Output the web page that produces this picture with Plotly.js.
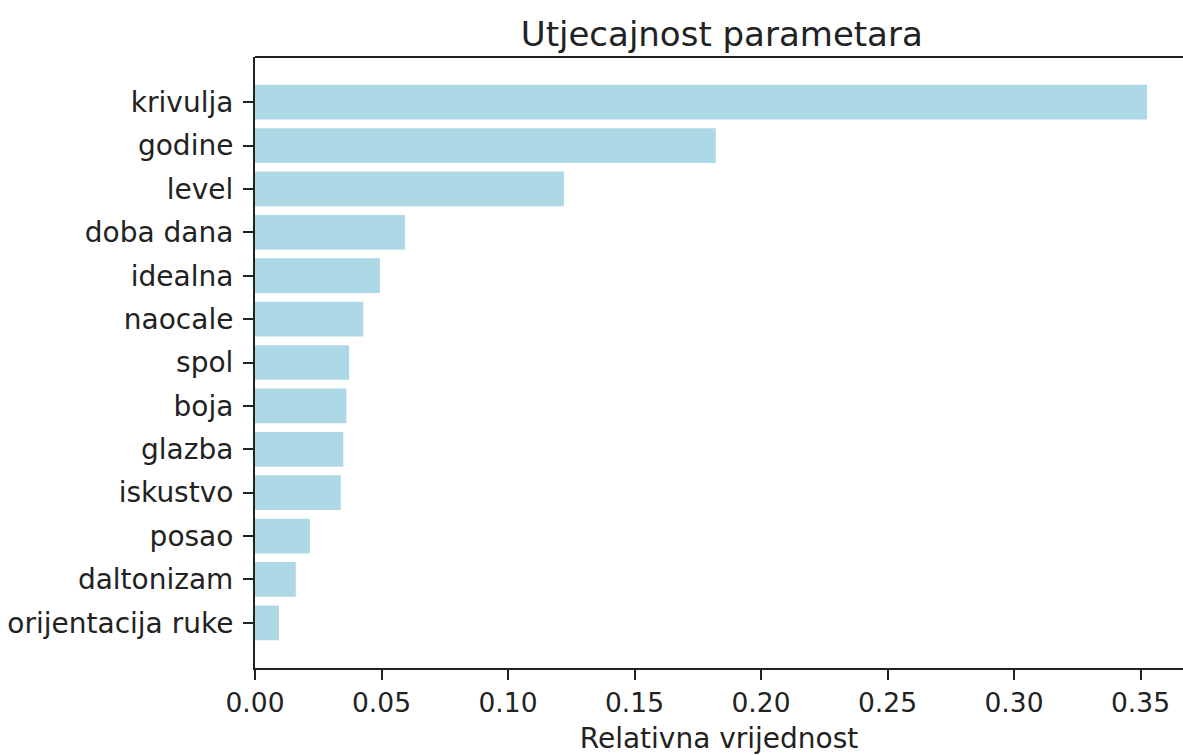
<!DOCTYPE html>
<html>
<head>
<meta charset="utf-8">
<script src="https://cdn.plot.ly/plotly-3.0.1.min.js"></script>
<style>html,body{margin:0;padding:0;background:#fff;overflow:hidden;}</style>
</head>
<body>
<div id="chart" style="width:1183px;height:755px;"></div>
<script>
const categories = ["krivulja","godine","level","doba dana","idealna","naocale","spol","boja","glazba","iskustvo","posao","daltonizam","orijentacija ruke"];
const values = [0.3526,0.1821,0.1221,0.0593,0.0494,0.0428,0.0372,0.0361,0.0349,0.0339,0.0217,0.0161,0.0095];
const xTicks = [0,0.05,0.10,0.15,0.20,0.25,0.30,0.35];
const xTickLabels = ["0.00","0.05","0.10","0.15","0.20","0.25","0.30","0.35"];

const font = "DejaVu Sans, sans-serif";
const data = [{
  type: "bar",
  orientation: "h",
  x: values,
  y: categories,
  marker: {color: "#ADD8E6", line: {width: 0}},
  hoverinfo: "x+y"
}];
const layout = {
  width: 1183, height: 755,
  margin: {l: 255, r: 0, t: 57, b: 87},
  paper_bgcolor: "#fff", plot_bgcolor: "#fff",
  bargap: 0.2,
  showlegend: false,
  font: {family: font, color: "#222", size: 27},
  title: {text: "Utjecajnost parametara", font: {family: font, size: 34, color: "#222"},
          x: 0.503, xref: "paper", xanchor: "center", y: 0.955, yanchor: "middle"},
  xaxis: {
    range: [0, 0.3668],
    tickvals: xTicks, ticktext: xTickLabels,
    ticks: "outside", ticklen: 10, tickwidth: 2, tickcolor: "#222",
    showline: true, linecolor: "#222", linewidth: 2,
    showgrid: false, zeroline: false,
    tickfont: {family: font, size: 26.5, color: "#222"},
    title: {text: "Relativna vrijednost", font: {family: font, size: 28, color: "#222"}, standoff: 12}
  },
  yaxis: {
    type: "category",
    categoryorder: "array", categoryarray: categories,
    range: [13.04, -1.04],
    ticks: "outside", ticklen: 10, tickwidth: 2, tickcolor: "#222",
    showline: true, linecolor: "#222", linewidth: 2,
    showgrid: false, zeroline: false,
    tickfont: {family: font, size: 28, color: "#222"},
    ticklabelstandoff: 4
  },
  shapes: [{type: "line", xref: "paper", yref: "paper", x0: 0, x1: 1, y0: 1, y1: 1,
            line: {color: "#222", width: 2}}]
};
Plotly.newPlot("chart", data, layout, {displayModeBar: false, staticPlot: true});
</script>
</body>
</html>
